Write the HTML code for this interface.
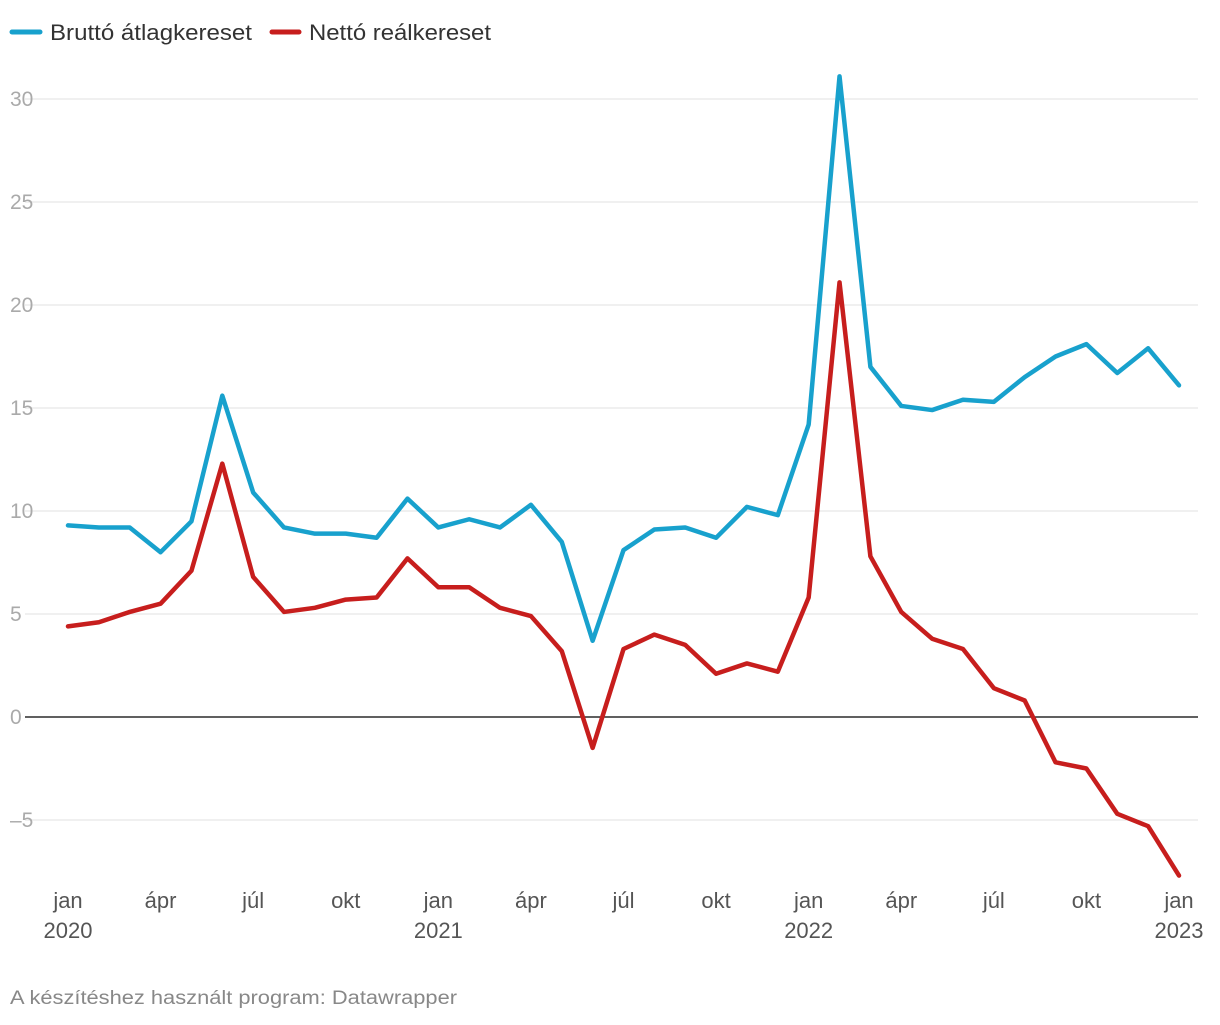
<!DOCTYPE html>
<html><head><meta charset="utf-8"><style>
body{margin:0;background:#fff;font-family:"Liberation Sans",sans-serif;}
svg text{font-family:"Liberation Sans",sans-serif;}
</style></head><body>
<svg width="1220" height="1020" id="c">
<g>
<line x1="12" y1="32" x2="40" y2="32" stroke="#18a1cd" stroke-width="5" stroke-linecap="round"/>
<text x="50" y="40" font-size="22" fill="#333" textLength="202" lengthAdjust="spacingAndGlyphs">Bruttó átlagkereset</text>
<line x1="272" y1="32" x2="299" y2="32" stroke="#c71e1d" stroke-width="5" stroke-linecap="round"/>
<text x="309" y="40" font-size="22" fill="#333" textLength="182" lengthAdjust="spacingAndGlyphs">Nettó reálkereset</text>
</g>
<g id="grid"></g><g id="xax"></g><g id="lines"></g>
<text x="10" y="1004" font-size="19" fill="#888" textLength="447" lengthAdjust="spacingAndGlyphs">A készítéshez használt program: Datawrapper</text>
</svg>
<script>
const yTicks=[-5,0,5,10,15,20,25,30];
const xLabels=[[0,"jan","2020"],[3,"ápr",""],[6,"júl",""],[9,"okt",""],[12,"jan","2021"],[15,"ápr",""],[18,"júl",""],[21,"okt",""],[24,"jan","2022"],[27,"ápr",""],[30,"júl",""],[33,"okt",""],[36,"jan","2023"]];
const brutto=[9.3,9.2,9.2,8.0,9.5,15.6,10.9,9.2,8.9,8.9,8.7,10.6,9.2,9.6,9.2,10.3,8.5,3.7,8.1,9.1,9.2,8.7,10.2,9.8,14.2,31.1,17.0,15.1,14.9,15.4,15.3,16.5,17.5,18.1,16.7,17.9,16.1];
const netto=[4.4,4.6,5.1,5.5,7.1,12.3,6.8,5.1,5.3,5.7,5.8,7.7,6.3,6.3,5.3,4.9,3.2,-1.5,3.3,4.0,3.5,2.1,2.6,2.2,5.8,21.1,7.8,5.1,3.8,3.3,1.4,0.8,-2.2,-2.5,-4.7,-5.3,-7.7];
const NS="http://www.w3.org/2000/svg";
const xs=i=>68+i*(1179-68)/36;
const ys=v=>717-v*(717-99)/30;
function mk(t,a,p){const e=document.createElementNS(NS,t);for(const k in a)e.setAttribute(k,a[k]);p.appendChild(e);return e;}
const g=document.getElementById('grid');
yTicks.forEach(v=>{
 const l=mk('line',{x1:25,x2:1198,y1:ys(v),y2:ys(v),stroke:v===0?'#000':'#e2e2e2','stroke-width':v===0?1.3:1},g);
 
 
 const t=mk('text',{x:10,y:ys(v)+7,'font-size':21,fill:'#aaa'},g);
 t.textContent=v<0?'\u2013'+(-v):String(v);
 
 
});
const xa=document.getElementById('xax');
xLabels.forEach(([i,m,y])=>{
 const t=mk('text',{x:xs(i),y:908,'font-size':22,fill:'#555','text-anchor':'middle'},xa);
 t.textContent=m;
 
 
 if(y){const t2=mk('text',{x:xs(i),y:938,'font-size':22,fill:'#555','text-anchor':'middle'},xa);
 t2.textContent=y;
 
 }
});
const lg=document.getElementById('lines');
[[brutto,'#18a1cd','line-brutto'],[netto,'#c71e1d','line-netto']].forEach(([d,c,n])=>{
 const p=mk('polyline',{points:d.map((v,i)=>xs(i)+','+ys(v)).join(' '),fill:'none',stroke:c,'stroke-width':4.5,'stroke-linejoin':'round','stroke-linecap':'round'},lg);
 
 
});
</script>
</body></html>
